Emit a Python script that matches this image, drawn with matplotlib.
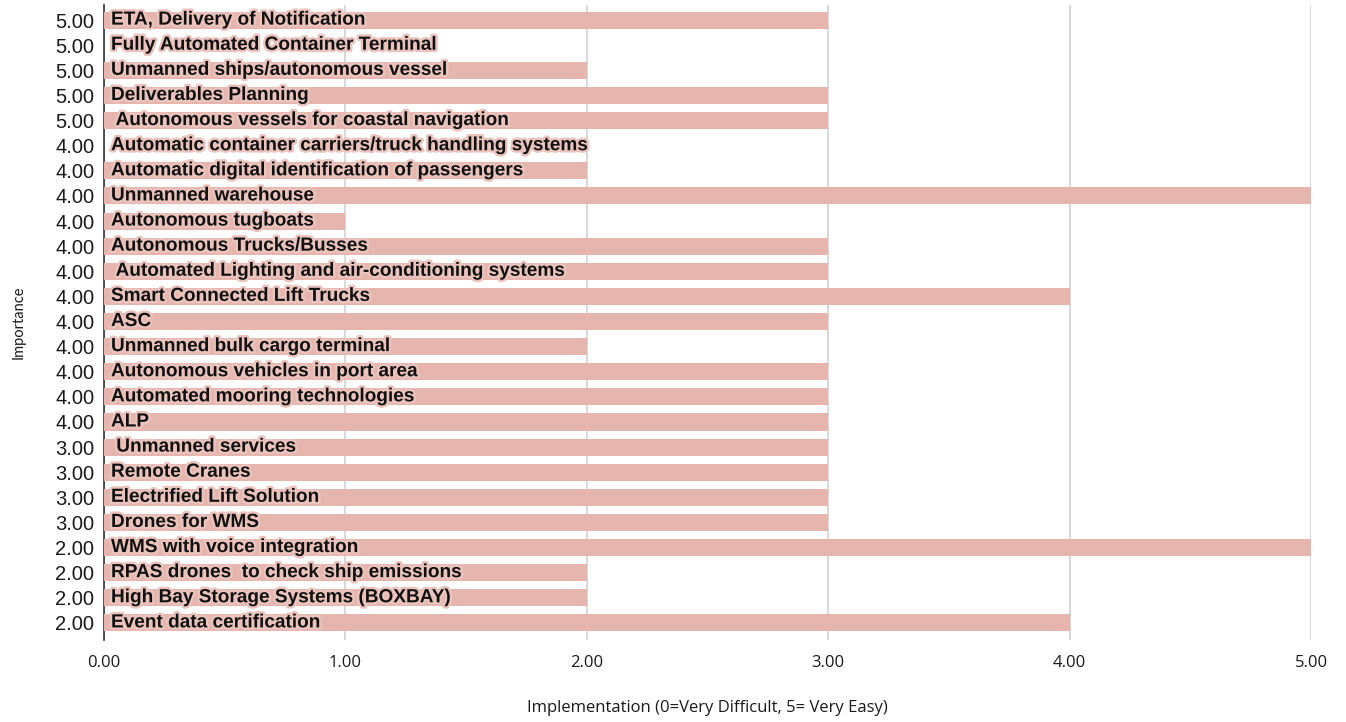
import matplotlib.pyplot as plt
import matplotlib.patheffects as pe

# data (top row first)
labels = [
    "ETA, Delivery of Notification",
    "Fully Automated Container Terminal",
    "Unmanned ships/autonomous vessel",
    "Deliverables Planning",
    " Autonomous vessels for coastal navigation",
    "Automatic container carriers/truck handling systems",
    "Automatic digital identification of passengers",
    "Unmanned warehouse",
    "Autonomous tugboats",
    "Autonomous Trucks/Busses",
    " Automated Lighting and air-conditioning systems",
    "Smart Connected Lift Trucks",
    "ASC",
    "Unmanned bulk cargo terminal",
    "Autonomous vehicles in port area",
    "Automated mooring technologies",
    "ALP",
    " Unmanned services",
    "Remote Cranes",
    "Electrified Lift Solution",
    "Drones for WMS",
    "WMS with voice integration",
    "RPAS drones  to check ship emissions",
    "High Bay Storage Systems (BOXBAY)",
    "Event data certification",
]
importance = [5, 5, 5, 5, 5, 4, 4, 4, 4, 4, 4, 4, 4, 4, 4, 4, 4,
              3, 3, 3, 3, 2, 2, 2, 2]
implementation = [3, 0, 2, 3, 3, 0, 2, 5, 1, 3, 3, 4, 3, 2, 3, 3, 3,
                  3, 3, 3, 3, 5, 2, 2, 4]

bar_color = '#e6b6ae'
sans = ['Liberation Sans', 'DejaVu Sans']
pos = list(range(len(labels)))

fig = plt.figure(figsize=(13.46, 7.22), dpi=100)
ax = fig.add_axes([0.0773, 0.1136, 0.8967, 0.8794])

ax.barh(pos, implementation, height=0.68, color=bar_color, zorder=2)

# bold labels with a soft pink halo, sitting on the bars
halo = [pe.withStroke(linewidth=3.5, foreground='#eac3bc')]
for i, lab in enumerate(labels):
    ax.annotate(lab, (0, i), xytext=(5, 0), textcoords='offset points',
                ha='left', va='center', fontsize=13.7, fontweight='bold',
                family=sans, color='#111111', zorder=4,
                path_effects=halo)

ax.set_ylim(24.68, -0.6)
ax.set_xlim(0, 5)
ax.set_yticks(pos)
ax.set_yticklabels(['%.2f' % v for v in importance],
                   fontsize=14.5, family=sans, color='#1a1a1a')
ax.set_xticks([0, 1, 2, 3, 4, 5])
ax.set_xticklabels(['%.2f' % v for v in [0, 1, 2, 3, 4, 5]],
                   fontsize=12, family='Open Sans', color='#1a1a1a')
ax.tick_params(axis='y', length=0, pad=7)
ax.tick_params(axis='x', length=0, pad=11)

ax.grid(axis='x', color='#d2d2d2', linewidth=1.2, zorder=0)
ax.set_axisbelow(True)
for s in ['top', 'right', 'bottom']:
    ax.spines[s].set_visible(False)
ax.spines['left'].set_color('#333333')
ax.spines['left'].set_linewidth(1.2)
ax.spines['left'].set_zorder(1)

ax.set_xlabel('Implementation (0=Very Difficult, 5= Very Easy)',
              fontsize=12, family='Open Sans', color='#1a1a1a', labelpad=21)
ax.set_ylabel('Importance', fontsize=10.5, family='Lato',
              color='#1a1a1a', labelpad=21)

fig.savefig('out.png', dpi=100)
